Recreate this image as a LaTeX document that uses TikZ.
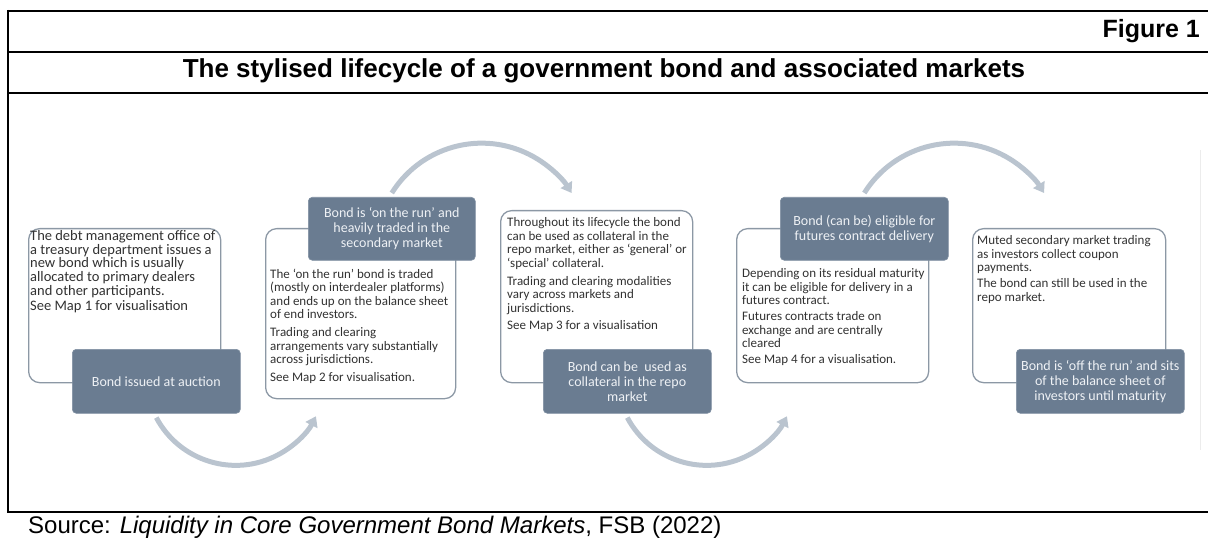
\documentclass[tikz,border=0pt]{standalone}
\usepackage{fontspec}
\setmainfont{Liberation Sans}
\newfontfamily\calibri{Carlito}
\usepackage{xcolor}
\usepackage{tikz}
\usetikzlibrary{arrows.meta}

\definecolor{slate}{RGB}{106,124,145}
\definecolor{slatetext}{RGB}{238,241,245}
\definecolor{edgegray}{RGB}{140,152,165}
\definecolor{arcgray}{RGB}{186,196,207}
\definecolor{bodygray}{RGB}{50,50,50}

\begin{document}
\begin{tikzpicture}[x=1pt,y=1pt,
		txtbox/.style={draw=edgegray,line width=1.3pt,fill=white,rounded corners=11pt,anchor=north west,inner sep=0pt},
		darkbox/.style={fill=slate,draw=slate!85!white,line width=0.6pt,rounded corners=4pt,minimum width=168pt,minimum height=64pt,anchor=north west,inner sep=0pt,text=slatetext,font=\calibri\fontsize{14}{15}\selectfont,align=center},
		bodytext/.style={text=bodygray,font=\calibri\fontsize{13}{13.6}\selectfont,align=left,anchor=north west,inner sep=0pt},
		flow/.style={arcgray,line width=5pt,-{Triangle[width=13pt,length=10pt]}}]
		\useasboundingbox (0,0) rectangle (1208,-540);
		% frame of the figure
		\draw[line width=2pt] (8,-11) -- (1208,-11);
		\draw[line width=2pt] (8,-52) -- (1208,-52);
		\draw[line width=2pt] (8,-93) -- (1208,-93);
		\draw[line width=2pt] (8,-512) -- (1208,-512);
		\draw[line width=2pt] (8,-10) -- (8,-513);
		\draw[gray!15,line width=1pt] (1200,-150) -- (1200,-450);
		\node[anchor=base east,inner sep=0pt,font=\bfseries\fontsize{25}{30}\selectfont] (figno) at (1200,-38) {Figure 1};
		\node[anchor=base,inner sep=0pt,font=\bfseries\fontsize{26}{30}\selectfont] (title) at (604,-78) {The stylised lifecycle of a government bond and associated markets};
		\node[anchor=base west,inner sep=0pt,font=\fontsize{24}{28}\selectfont] (source) at (28,-533) {Source: \textit{Liquidity in Core Government Bond Markets}, FSB (2022)};

		% 1: auction
		\node[txtbox,minimum width=192pt,minimum height=154pt] (boxauction) at (28,-228) {};
		\node[bodytext,font=\calibri\fontsize{14.5}{13.8}\selectfont] (txtauction) at (30,-230) {The debt management office of\\a treasury department issues a\\new bond which is usually\\allocated to primary dealers\\and other participants.\\[1.5pt]See Map 1 for visualisation};
		\node[darkbox] (auction) at (72,-349) {Bond issued at auction};

		% 2: on the run
		\node[txtbox,minimum width=190pt,minimum height=170pt] (boxonrun) at (265,-228) {};
		\node[bodytext] (txtonrun) at (270,-268.5) {The ‘on the run’ bond is traded\\(mostly on interdealer platforms)\\and ends up on the balance sheet\\of end investors.\\[4pt]Trading and clearing\\arrangements vary substantially\\across jurisdictions.\\[4pt]See Map 2 for visualisation.};
		\node[darkbox,minimum width=167pt,minimum height=63pt] (onrun) at (308,-197) {Bond is ‘on the run’ and\\heavily traded in the\\secondary market};

		% 3: repo
		\node[txtbox,minimum width=192pt,minimum height=172pt] (boxrepo) at (500,-210) {};
		\node[bodytext] (txtrepo) at (507,-217.5) {Throughout its lifecycle the bond\\can be used as collateral in the\\repo market, either as ‘general’ or\\‘special’ collateral.\\[4pt]Trading and clearing modalities\\vary across markets and\\jurisdictions.\\[4pt]See Map 3 for a visualisation};
		\node[darkbox] (repo) at (543,-349) {Bond can be~ used as\\collateral in the repo\\market};

		% 4: futures
		\node[txtbox,minimum width=192pt,minimum height=154pt] (boxfutures) at (736,-228) {};
		\node[bodytext] (txtfutures) at (742,-268.5) {Depending on its residual maturity\\it can be eligible for delivery in a\\futures contract.\\[2pt]Futures contracts trade on\\exchange and are centrally\\cleared\\[2pt]See Map 4 for a visualisation.};
		\node[darkbox,minimum height=63pt] (futures) at (780,-197) {Bond (can be) eligible for\\futures contract delivery};

		% 5: off the run
		\node[txtbox,minimum width=193pt,minimum height=154pt] (boxoffrun) at (972,-228) {};
		\node[bodytext] (txtoffrun) at (977,-235.5) {Muted secondary market trading\\as investors collect coupon\\payments.\\[2pt]The bond can still be used in the\\repo market.};
		\node[darkbox] (offrun) at (1016,-349) {Bond is ‘off the run’ and sits\\of the balance sheet of\\investors until maturity};

		% arrows between the stages
		\draw[flow] ([yshift=-4pt]auction.south) arc[start angle=208,end angle=333,radius=90pt];
		\draw[flow] ([yshift=4pt]onrun.north) arc[start angle=148,end angle=32,radius=106pt];
		\draw[flow] ([yshift=-4pt]repo.south) arc[start angle=208,end angle=333,radius=90pt];
		\draw[flow] ([yshift=4pt]futures.north) arc[start angle=148,end angle=32,radius=106pt];
	\end{tikzpicture}
\end{document}
